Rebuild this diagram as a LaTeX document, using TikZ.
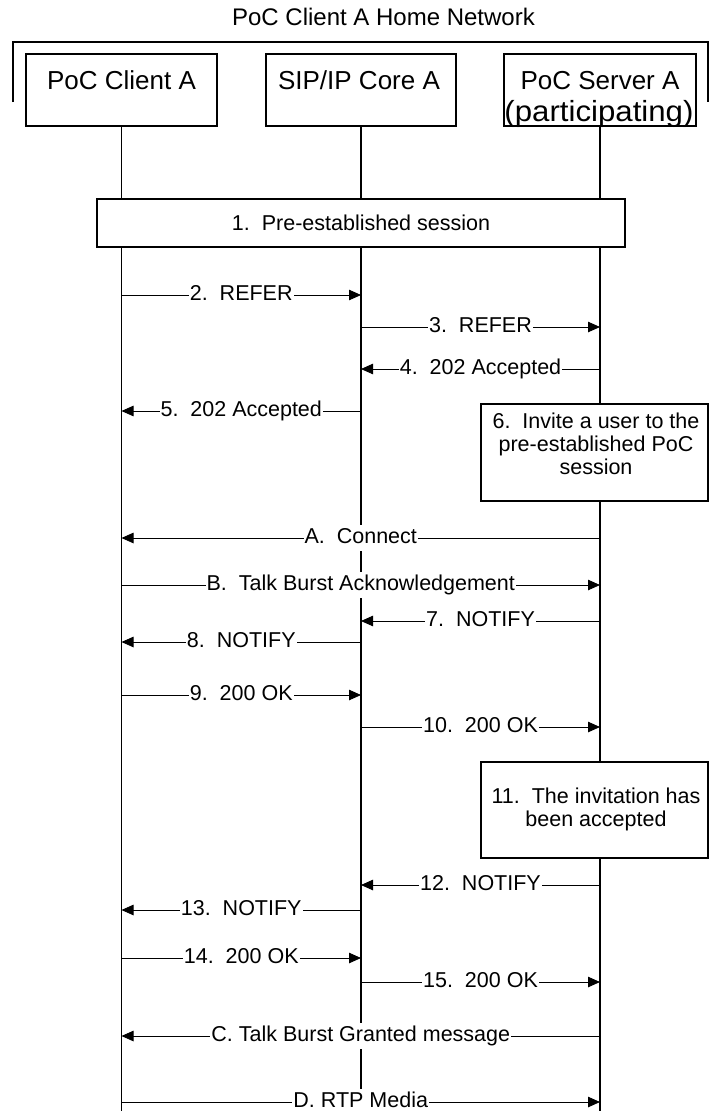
\documentclass[tikz,border=0pt]{standalone}
\usepackage{fontspec}
\setmainfont{Liberation Sans}
\usetikzlibrary{arrows.meta}
\newcommand\msgfont{\fontsize{21.5}{23}\selectfont}
\newcommand\headfont{\fontsize{26}{28}\selectfont}
\newcommand\titlefont{\fontsize{24}{27}\selectfont}
\newcommand\msgline[4]{\draw[msg] (#1 |- 0,#3) -- node[lbl]{#4} (#2 |- 0,#3);}
\frenchspacing
\begin{document}
\begin{tikzpicture}[x=1pt,y=-1pt,
  life/.style={line width=1.3pt},
  box/.style={draw, line width=1.1pt, fill=white, inner sep=0pt},
  msg/.style={line width=0.8pt, -{Triangle[length=12pt,width=10.5pt]}},
  lbl/.style={fill=white, inner xsep=1pt, inner ysep=3pt, text height=15.5pt, text depth=5pt, font=\msgfont},
  head/.style={anchor=base, font=\headfont, inner sep=0pt}]
\useasboundingbox (0,0) rectangle (709,1111);
% title and bracket
\node[anchor=base, font=\titlefont, inner sep=0pt] (title) at (383.5,25) {PoC Client A Home Network};
\draw[line width=1.1pt] (13,102) -- (13,42) -- (708,42) -- (708,102);
% entity boxes
\node[box, minimum width=191pt, minimum height=72pt] (ca) at (121.5,90) {};
\node[box, minimum width=190pt, minimum height=72pt] (core) at (361,90) {};
\node[box, minimum width=192pt, minimum height=72pt] (srv) at (600,90) {};
\node[head] (caT) at (121.5,89) {PoC Client A};
\node[head] (coreT) at (359,89) {SIP/IP Core A};
\node[head] (srvT) at (600,89) {PoC Server A};
\node[head] (srvT2) at (599,121) {\scalebox{1.2}[1.12]{(participating)}};
% lifelines
\draw[life] (ca.south) -- (ca |- 0,1111);
\draw[life] (core.south) -- (core |- 0,1111);
\draw[life] (srv.south) -- (srv |- 0,1111);
% boxes on lifelines
\node[box, minimum width=528pt, minimum height=48pt, font=\msgfont] (pre) at (361,223) {1.\ \ Pre-established session};
\node[box, minimum width=227pt, minimum height=97pt] (inv) at (594.5,452.5) {};
\node[font=\msgfont, align=center, inner sep=0pt] (invT) at (596,444) {6.\ \ Invite a user to the\\pre-established PoC\\session};
\node[box, minimum width=227pt, minimum height=96pt] (acc) at (594.5,810) {};
\node[font=\msgfont, align=center, inner sep=0pt] (accT) at (596,809) {11.\ \ The invitation has\\been accepted};
% messages
\msgline{ca}{core}{295}{2.\ \ REFER}
\msgline{core}{srv}{327}{3.\ \ REFER}
\msgline{srv}{core}{369}{4.\ \ 202 Accepted}
\msgline{core}{ca}{411}{5.\ \ 202 Accepted}
\msgline{srv}{ca}{538}{A.\ \ Connect}
\msgline{ca}{srv}{585}{B.\ \ Talk Burst Acknowledgement}
\msgline{srv}{core}{621}{7.\ \ NOTIFY}
\msgline{core}{ca}{642}{8.\ \ NOTIFY}
\msgline{ca}{core}{695}{9.\ \ 200 OK}
\msgline{core}{srv}{727}{10.\ \ 200 OK}
\msgline{srv}{core}{885}{12.\ \ NOTIFY}
\msgline{core}{ca}{910}{13.\ \ NOTIFY}
\msgline{ca}{core}{958}{14.\ \ 200 OK}
\msgline{core}{srv}{982}{15.\ \ 200 OK}
\msgline{srv}{ca}{1036}{C. Talk Burst Granted message}
\msgline{ca}{srv}{1102}{D. RTP Media}
\end{tikzpicture}
\end{document}
